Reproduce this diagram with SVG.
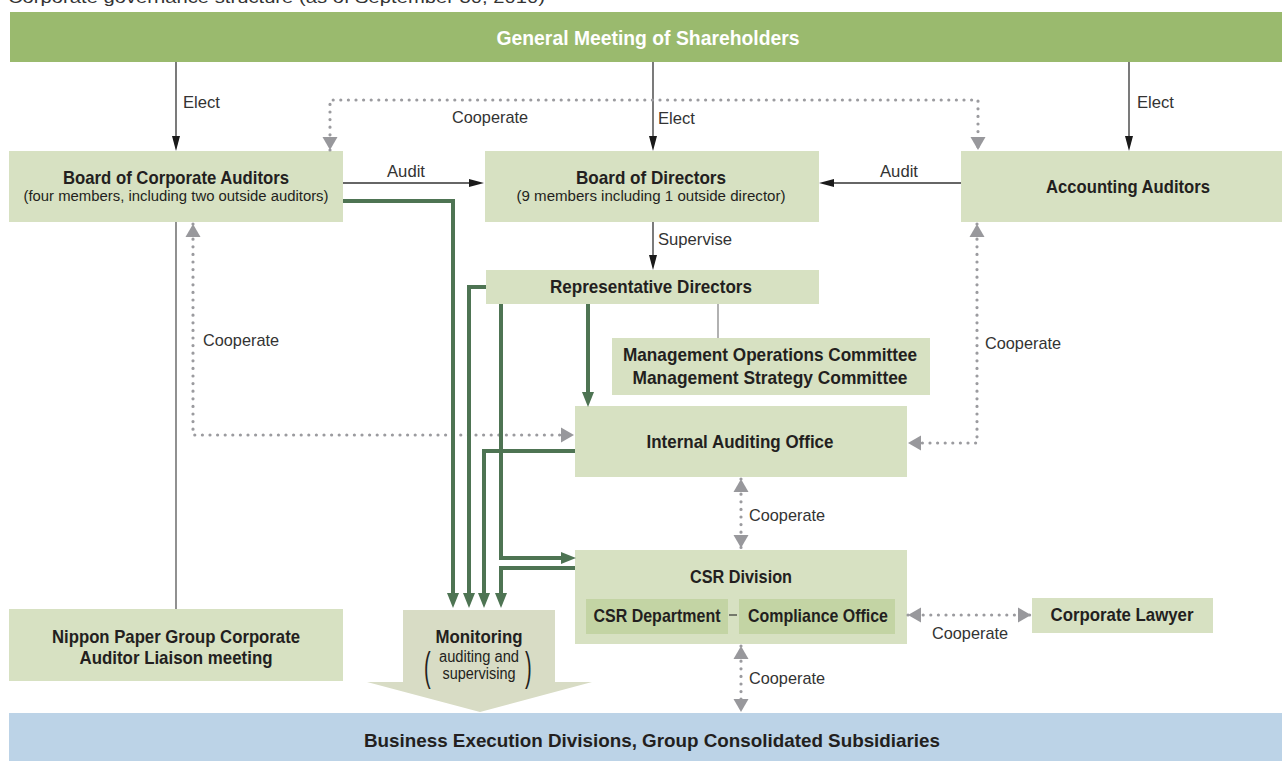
<svg xmlns="http://www.w3.org/2000/svg" width="1284" height="761" viewBox="0 0 1284 761">
<style>
.node{fill:#d7e1c2}
.inner{fill:#c3d4a4}
.t{font-family:"Liberation Sans",Arial,sans-serif;fill:#231f20}
.b{font-weight:bold;font-size:18.5px}
.s{font-size:15.5px}
.lbl{font-family:"Liberation Sans",Arial,sans-serif;font-size:17px;fill:#333}
.thin{stroke:#333;stroke-width:1.3;fill:none}
.dot{stroke:#9b9b9f;stroke-width:3.2;stroke-dasharray:0 7.6;stroke-linecap:round;fill:none}
.grn{stroke:#4e7453;stroke-width:4;fill:none}
</style>
<defs>
<marker id="blk" markerUnits="userSpaceOnUse" markerWidth="16" markerHeight="10" viewBox="0 -5 16 10" refX="0" refY="0" orient="auto"><path d="M0,-4 L15,0 L0,4 z" fill="#1a1a1a"/></marker>
<marker id="gry" markerUnits="userSpaceOnUse" markerWidth="14" markerHeight="16" viewBox="0 -8 14 16" refX="13" refY="0" orient="auto-start-reverse"><path d="M0,-7.5 L13,0 L0,7.5 z" fill="#98989c"/></marker>
<marker id="grn" markerUnits="userSpaceOnUse" markerWidth="16" markerHeight="14" viewBox="0 -7 16 14" refX="0" refY="0" orient="auto"><path d="M0,-6 L15,0 L0,6 z" fill="#4e7453"/></marker>
</defs>
<rect width="1284" height="761" fill="#fff"/>
<text x="8" y="3" font-family="Liberation Sans, Arial, sans-serif" font-size="17" fill="#333" textLength="537" lengthAdjust="spacingAndGlyphs">Corporate governance structure (as of September 30, 2010)</text>

<g id="shareholders">
<rect x="10" y="12" width="1272" height="50" fill="#9aba6e"/>
<text class="t b" x="648" y="45" text-anchor="middle" style="fill:#fff;font-size:19.5px" textLength="303" lengthAdjust="spacingAndGlyphs">General Meeting of Shareholders</text>
</g>
<g id="corporate-auditors">
<rect class="node" x="9" y="151" width="334" height="71"/>
<text class="t b" x="176" y="184" text-anchor="middle" textLength="226" lengthAdjust="spacingAndGlyphs">Board of Corporate Auditors</text>
<text class="t s" x="176" y="201" text-anchor="middle" textLength="305" lengthAdjust="spacingAndGlyphs">(four members, including two outside auditors)</text>
</g>
<g id="directors">
<rect class="node" x="485" y="151" width="334" height="71"/>
<text class="t b" x="651" y="184" text-anchor="middle" textLength="150" lengthAdjust="spacingAndGlyphs">Board of Directors</text>
<text class="t s" x="651" y="201" text-anchor="middle" textLength="269" lengthAdjust="spacingAndGlyphs">(9 members including 1 outside director)</text>
</g>
<g id="accounting-auditors">
<rect class="node" x="961" y="151" width="321" height="71"/>
<text class="t b" x="1128" y="193" text-anchor="middle" textLength="164" lengthAdjust="spacingAndGlyphs">Accounting Auditors</text>
</g>
<g id="representative-directors">
<rect class="node" x="486" y="270" width="333" height="34"/>
<text class="t b" x="651" y="293" text-anchor="middle" textLength="202" lengthAdjust="spacingAndGlyphs">Representative Directors</text>
</g>
<g id="committees">
<rect class="node" x="612" y="338" width="318" height="57"/>
<text class="t b" x="770" y="361" text-anchor="middle" textLength="294" lengthAdjust="spacingAndGlyphs">Management Operations Committee</text>
<text class="t b" x="770" y="384" text-anchor="middle" textLength="275" lengthAdjust="spacingAndGlyphs">Management Strategy Committee</text>
</g>
<g id="internal-auditing">
<rect class="node" x="575" y="406" width="332" height="71"/>
<text class="t b" x="740" y="448" text-anchor="middle" textLength="187" lengthAdjust="spacingAndGlyphs">Internal Auditing Office</text>
</g>
<g id="csr-division">
<rect class="node" x="575" y="550" width="332" height="94"/>
<text class="t b" x="741" y="583" text-anchor="middle" textLength="102" lengthAdjust="spacingAndGlyphs">CSR Division</text>
<rect class="inner" x="586" y="599" width="142" height="35"/>
<text class="t b" x="657" y="622" text-anchor="middle" textLength="127" lengthAdjust="spacingAndGlyphs">CSR Department</text>
<rect class="inner" x="739" y="599" width="156" height="35"/>
<text class="t b" x="818" y="622" text-anchor="middle" textLength="140" lengthAdjust="spacingAndGlyphs">Compliance Office</text>
<line x1="729" y1="615" x2="737" y2="615" stroke="#333" stroke-width="1.2"/>
</g>
<g id="corporate-lawyer">
<rect class="node" x="1032" y="598" width="181" height="35"/>
<text class="t b" x="1122" y="621" text-anchor="middle" textLength="143" lengthAdjust="spacingAndGlyphs">Corporate Lawyer</text>
</g>
<g id="liaison-meeting">
<rect class="node" x="9" y="609" width="334" height="72"/>
<text class="t b" x="176" y="643" text-anchor="middle" textLength="248" lengthAdjust="spacingAndGlyphs">Nippon Paper Group Corporate</text>
<text class="t b" x="176" y="664" text-anchor="middle" textLength="193" lengthAdjust="spacingAndGlyphs">Auditor Liaison meeting</text>
</g>
<g id="monitoring">
<polygon points="403,610 555,610 555,682 592,682 480,712 367,682 403,682" fill="#d8dcc5"/>
<text class="t b" x="479" y="643" text-anchor="middle" textLength="87" lengthAdjust="spacingAndGlyphs">Monitoring</text>
<text class="t" x="479" y="662" text-anchor="middle" font-size="16" textLength="80" lengthAdjust="spacingAndGlyphs">auditing and</text>
<text class="t" x="479" y="679" text-anchor="middle" font-size="16" textLength="73" lengthAdjust="spacingAndGlyphs">supervising</text>
<text class="t" x="0" y="0" font-size="40" transform="translate(424,681) scale(0.5,1)">(</text>
<text class="t" x="0" y="0" font-size="40" transform="translate(525,681) scale(0.5,1)">)</text>
</g>
<g id="business-execution">
<rect x="9" y="713" width="1273" height="48" fill="#bcd3e7"/>
<text class="t b" x="652" y="747" text-anchor="middle" style="font-size:19px" textLength="576" lengthAdjust="spacingAndGlyphs">Business Execution Divisions, Group Consolidated Subsidiaries</text>
</g>

<g id="connectors">
<path class="thin" d="M176,62 V136" marker-end="url(#blk)"/>
<path class="thin" d="M653,62 V136" marker-end="url(#blk)"/>
<path class="thin" d="M1129,62 V136" marker-end="url(#blk)"/>
<path class="thin" d="M343,183 H469" marker-end="url(#blk)" stroke="#666"/>
<path class="thin" d="M961,183 H834" marker-end="url(#blk)" stroke="#666"/>
<path class="thin" d="M653,222 V255" marker-end="url(#blk)"/>
<line x1="718" y1="304" x2="718" y2="338" stroke="#888" stroke-width="1.3"/>
<line x1="176" y1="222" x2="176" y2="609" stroke="#555" stroke-width="1.3"/>

<path class="dot" d="M330,150 V100 H978 V150" marker-start="url(#gry)" marker-end="url(#gry)"/>
<path class="dot" d="M193,224 V435 H574" marker-start="url(#gry)" marker-end="url(#gry)"/>
<path class="dot" d="M977,224 V443 H908" marker-start="url(#gry)" marker-end="url(#gry)"/>
<path class="dot" d="M741,479 V548" marker-start="url(#gry)" marker-end="url(#gry)"/>
<path class="dot" d="M741,646 V712" marker-start="url(#gry)" marker-end="url(#gry)"/>
<path class="dot" d="M908,615 H1031" marker-start="url(#gry)" marker-end="url(#gry)"/>

<path class="grn" d="M343,201 H453 V593" marker-end="url(#grn)"/>
<path class="grn" d="M486,287 H469 V593" marker-end="url(#grn)"/>
<path class="grn" d="M575,451 H484 V593" marker-end="url(#grn)"/>
<path class="grn" d="M575,568 H501 V593" marker-end="url(#grn)"/>
<path class="grn" d="M501,304 V558 H561" marker-end="url(#grn)"/>
<path class="grn" d="M588,304 V392" marker-end="url(#grn)"/>

<text class="lbl" x="183" y="108" textLength="37" lengthAdjust="spacingAndGlyphs">Elect</text>
<text class="lbl" x="658" y="124" textLength="37" lengthAdjust="spacingAndGlyphs">Elect</text>
<text class="lbl" x="1137" y="108" textLength="37" lengthAdjust="spacingAndGlyphs">Elect</text>
<text class="lbl" x="452" y="123" textLength="76" lengthAdjust="spacingAndGlyphs">Cooperate</text>
<text class="lbl" x="387" y="177" textLength="38" lengthAdjust="spacingAndGlyphs">Audit</text>
<text class="lbl" x="880" y="177" textLength="38" lengthAdjust="spacingAndGlyphs">Audit</text>
<text class="lbl" x="658" y="245" textLength="74" lengthAdjust="spacingAndGlyphs">Supervise</text>
<text class="lbl" x="203" y="346" textLength="76" lengthAdjust="spacingAndGlyphs">Cooperate</text>
<text class="lbl" x="985" y="349" textLength="76" lengthAdjust="spacingAndGlyphs">Cooperate</text>
<text class="lbl" x="749" y="521" textLength="76" lengthAdjust="spacingAndGlyphs">Cooperate</text>
<text class="lbl" x="932" y="639" textLength="76" lengthAdjust="spacingAndGlyphs">Cooperate</text>
<text class="lbl" x="749" y="684" textLength="76" lengthAdjust="spacingAndGlyphs">Cooperate</text>
</g>
</svg>
